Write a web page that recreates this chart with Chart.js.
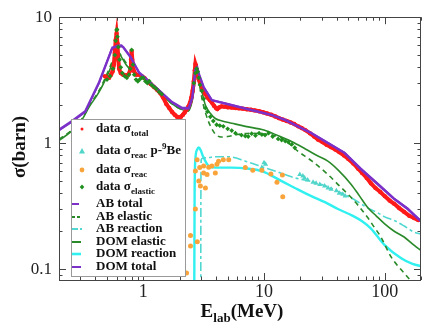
<!DOCTYPE html>
<html>
<head>
<meta charset="utf-8">
<script src="https://cdn.jsdelivr.net/npm/chart.js@4.4.1/dist/chart.umd.min.js"></script>
<style>
  body { margin: 0; background: #fff; }
  #wrap { position: relative; width: 425px; height: 324px; font-family: "Liberation Serif", "DejaVu Serif", serif; }
  canvas { position: absolute; left: 0; top: 0; }
  .title { position: absolute; font-weight: bold; font-size: 19px; color: #111; white-space: nowrap; }
  #ytitle { left: 19px; top: 147px; transform: translate(-50%, -50%) rotate(-90deg); }
  #xtitle { left: 242px; top: 300px; transform: translateX(-50%); }
  #xtitle sub { font-size: 13px; }
  #legend { position: absolute; left: 71px; top: 119px; width: 113px; height: 156px; border: 1px solid #9a9a9a; background: #fff; }
  .row { position: absolute; left: 0; width: 112px; height: 14px; line-height: 14px; font-size: 13px; font-weight: bold; color: #111; white-space: nowrap; }
  .row svg { position: absolute; left: 0; top: 0; }
  .row span { position: absolute; left: 24px; top: 0; }
  .row sub, .row sup { font-size: 9px; line-height: 0; }
</style>
</head>
<body>
<div id="wrap">
  <canvas id="chart" width="425" height="324"></canvas>
  <div class="title" id="ytitle">σ(barn)</div>
  <div class="title" id="xtitle">E<sub>lab</sub>(MeV)</div>
  <div id="legend">
    <div class="row" style="top:1px"><svg width="22" height="14"><circle cx="10" cy="8" r="1.5" fill="#ff1a1a"/></svg><span>data σ<sub>total</sub></span></div>
    <div class="row" style="top:23px"><svg width="22" height="14"><polygon points="10,5 13,10.5 7,10.5" fill="#4fd5c9"/></svg><span>data σ<sub>reac</sub> p-<sup>9</sup>Be</span></div>
    <div class="row" style="top:41.5px"><svg width="22" height="14"><circle cx="10" cy="8" r="2.4" fill="#f9a43a"/></svg><span>data σ<sub>reac</sub></span></div>
    <div class="row" style="top:59px"><svg width="22" height="14"><polygon points="10,5.5 12.3,8 10,10.5 7.7,8" fill="#1f8f1f"/></svg><span>data σ<sub>elastic</sub></span></div>
    <div class="row" style="top:76px"><svg width="22" height="14"><line x1="0" y1="8" x2="7" y2="8" stroke="#7b30c8" stroke-width="2"/></svg><span>AB total</span></div>
    <div class="row" style="top:88.7px"><svg width="22" height="14"><line x1="0" y1="8" x2="9" y2="8" stroke="#2a8a2a" stroke-width="2" stroke-dasharray="3,2"/></svg><span>AB elastic</span></div>
    <div class="row" style="top:101.3px"><svg width="22" height="14"><line x1="0" y1="8" x2="10" y2="8" stroke="#50d8d0" stroke-width="2" stroke-dasharray="6,2,2,2"/></svg><span>AB reaction</span></div>
    <div class="row" style="top:113.7px"><svg width="22" height="14"><line x1="0" y1="8" x2="9" y2="8" stroke="#2a8a2a" stroke-width="2"/></svg><span>DOM elastic</span></div>
    <div class="row" style="top:126.3px"><svg width="22" height="14"><line x1="0" y1="8" x2="9" y2="8" stroke="#30f0f0" stroke-width="2.6"/></svg><span>DOM reaction</span></div>
    <div class="row" style="top:139px"><svg width="22" height="14"><line x1="0" y1="8" x2="9" y2="8" stroke="#7b30c8" stroke-width="2"/></svg><span>DOM total</span></div>
  </div>
</div>
<script>
// tick labels
const xTickLabels = [1, 10, 100];
const yTickLabels = [0.1, 1, 10];

// data: total cross section (red)
const totE = [0.48, 0.5, 0.52, 0.54, 0.556, 0.57, 0.58, 0.59, 0.6, 0.61, 0.62, 0.63, 0.65, 0.68, 0.72, 0.75, 0.78, 0.79, 0.8, 0.81, 0.83, 0.87,
  0.92, 0.97, 1.02, 1.08, 1.15, 1.22, 1.3, 1.38, 1.46, 1.55, 1.64, 1.73, 1.82, 1.9, 1.97, 2.05, 2.13, 2.2, 2.28, 2.36, 2.44, 2.5, 2.56,
  2.62, 2.67, 2.7, 2.73, 2.77, 2.82, 2.88, 2.95, 3.05, 3.15, 3.27, 3.4, 3.55, 3.7, 3.85, 4.0, 4.1, 4.25, 4.45, 4.7, 5.0, 5.4, 5.8, 6.2,
  6.7, 7.2, 7.8, 8.4, 9.1, 9.8, 10.6, 11.5, 12.4, 13.3, 14.3, 15.4, 16.6, 17.8, 19.2, 20.5, 22, 24, 26, 28, 30.5, 33, 36, 39, 42, 46,
  50, 55, 60, 65, 71, 77, 84, 92, 100, 110, 120, 132, 145, 160, 175, 190];
const totS = [3.4, 3.3, 3.3, 3.5, 3.7, 4.2, 5.2, 6.6, 7.4, 6.2, 4.6, 3.9, 3.6, 3.5, 3.45, 3.5, 3.8, 4.6, 5.4, 4.6, 3.8, 3.5,
  3.5, 3.4, 3.3, 3.1, 2.95, 2.8, 2.65, 2.5, 2.3, 2.05, 1.9, 1.77, 1.68, 1.62, 1.6, 1.62, 1.68, 1.75, 1.85, 1.95, 2.1, 2.3, 2.6,
  3.1, 3.8, 4.25, 4.1, 3.8, 3.5, 3.2, 3.0, 2.8, 2.6, 2.45, 2.3, 2.2, 2.1, 1.98, 1.9, 1.87, 1.92, 1.96, 1.95, 1.93, 1.92, 1.9, 1.89,
  1.88, 1.86, 1.84, 1.82, 1.79, 1.76, 1.72, 1.68, 1.63, 1.58, 1.54, 1.5, 1.46, 1.42, 1.36, 1.32, 1.27, 1.2, 1.13, 1.07, 1.02, 0.97, 0.93, 0.89, 0.85, 0.8,
  0.75, 0.69, 0.63, 0.58, 0.53, 0.48, 0.44, 0.41, 0.38, 0.35, 0.33, 0.305, 0.285, 0.265, 0.255, 0.245];

// data: elastic (green)
const elE = [0.5, 0.53, 0.56, 0.58, 0.59, 0.6, 0.605, 0.61, 0.62, 0.635, 0.65, 0.67, 0.7, 0.73, 0.76, 0.78, 0.8, 0.82, 0.84, 0.87, 0.9, 0.93,
  0.97, 1.0, 1.04, 1.08, 1.12, 1.17, 1.22, 1.28, 1.35, 1.42,
  2.62, 2.7, 2.76, 2.82, 2.88, 2.95, 3.05, 3.16, 3.27, 3.4, 3.59, 3.8, 4.05, 4.3, 4.6, 5.0, 5.4, 5.8, 6.5, 7.0, 7.4, 7.9, 8.5, 9.1, 9.6,
  10.2, 10.9, 11.8, 13.1, 14, 15, 15.9, 17, 18];
const elS = [3.2, 3.4, 3.9, 5.0, 6.5, 7.9, 8.0, 7.0, 5.8, 4.6, 4.0, 3.6, 3.4, 3.3, 3.5, 3.9, 5.5, 4.2, 3.5, 3.2, 3.1, 3.2,
  3.3, 3.3, 3.1, 3.0, 3.1, 2.9, 2.8, 2.7, 2.55, 2.45,
  3.0, 3.6, 3.9, 3.7, 3.3, 2.9, 2.6, 2.25, 1.9, 1.78, 1.62, 1.5, 1.4, 1.38, 1.36, 1.3, 1.26, 1.2, 1.16, 1.14, 1.13, 1.19, 1.15, 1.2, 1.17,
  1.16, 1.2, 1.13, 1.08, 1.06, 1.04, 1.02, 0.98, 0.92];

// data: reaction (orange)
const reacE = [2.28, 2.46, 2.46, 2.7, 2.8, 2.7, 2.79, 2.93, 2.88, 2.97, 3.16, 3.16, 3.27, 3.37, 3.48, 3.7, 3.95, 4.07, 4.2, 4.6, 5.1,
  7.0, 8.07, 9.6, 11.4, 12.8, 14.2, 14.3];
const reacS = [0.093, 0.185, 0.153, 0.30, 0.165, 0.6, 0.74, 0.64, 0.5, 0.457, 0.66, 0.58, 0.44, 0.565, 0.645, 0.66, 0.58, 0.68, 0.72, 0.74, 0.74,
  0.64, 0.61, 0.61, 0.57, 0.49, 0.56, 0.375];

// data: reaction p-9Be (triangles)
const beE = [9.6, 10.0, 10.3, 19.8, 21, 21.7, 23, 25.5, 27, 29, 31.8, 34, 36, 39.8, 42, 45, 47];
const beS = [0.64, 0.7, 0.68, 0.565, 0.55, 0.53, 0.51, 0.49, 0.48, 0.47, 0.457, 0.44, 0.43, 0.42, 0.40, 0.394, 0.38];

// AB model
const abTotE = [0.2, 0.257, 0.33, 0.43, 0.555, 0.65, 0.68, 0.787, 0.92, 1.35, 1.73, 2.1, 2.38, 2.55, 2.7, 2.79, 2.9, 3.16, 3.7, 4.77,
  6.97, 11.6, 14.9, 24.7, 46.6, 63.6, 87.6, 120, 155, 200];
const abTotS = [1.28, 1.5, 1.79, 3.05, 5.73, 5.9, 5.8, 4.78, 3.65, 2.62, 2.12, 1.9, 1.9, 2.3, 3.87, 4.0, 3.5, 2.78, 2.19, 2.06,
  1.88, 1.67, 1.53, 1.2, 0.835, 0.62, 0.472, 0.36, 0.30, 0.239];
const abElE = [0.2, 0.25, 0.305, 0.357, 0.43, 0.52, 0.56, 0.59, 0.62, 0.66, 0.716, 0.81, 1.05, 1.5, 2.0, 2.35, 2.55, 2.7, 2.8, 2.9, 3.0,
  3.15, 3.3, 3.5, 3.7, 3.95, 4.4, 5.0, 6.0, 8.0, 10, 14, 19.2, 25, 33.8, 42, 52.8, 62, 72, 82, 93, 113, 145, 170];
const abElS = [1.07, 1.25, 1.53, 2.0, 2.62, 3.87, 4.6, 5.2, 5.3, 4.9, 4.37, 3.77, 3.23, 2.3, 1.88, 1.8, 2.3, 3.4, 3.5, 3.0, 2.5,
  2.0, 1.7, 1.45, 1.3, 1.18, 1.12, 1.13, 1.17, 1.2, 1.18, 1.1, 0.86, 0.72, 0.565, 0.46, 0.37, 0.31, 0.258, 0.215, 0.18, 0.125, 0.093, 0.078];
const abReE = [2.99, 3.0, 3.02, 3.1, 3.5, 4.0, 5.1, 7, 9.6, 13, 18, 24, 30, 38, 46.6, 55, 63.6, 75, 87.6, 100, 120, 145, 175, 200];
const abReS = [0.05, 0.5, 0.74, 0.76, 0.77, 0.78, 0.78, 0.72, 0.65, 0.59, 0.53, 0.5, 0.47, 0.43, 0.39, 0.36, 0.33, 0.3, 0.28, 0.26, 0.243, 0.22, 0.197, 0.19];

// DOM model
const domTotE = [0.2, 0.257, 0.33, 0.43, 0.545, 0.6, 0.66, 0.787, 0.92, 1.35, 1.73, 2.1, 2.38, 2.55, 2.7, 2.8, 2.9, 3.16, 3.7, 4.77,
  6.97, 11.6, 14.9, 24.7, 46.6, 63.6, 87.6, 120, 155, 200];
const domTotS = [1.26, 1.48, 1.76, 3.0, 5.6, 5.95, 6.0, 4.85, 3.6, 2.6, 2.1, 1.88, 1.88, 2.35, 3.8, 3.95, 3.5, 2.8, 2.2, 2.08,
  1.9, 1.68, 1.54, 1.21, 0.84, 0.63, 0.48, 0.365, 0.305, 0.242];
const domElE = [0.2, 0.25, 0.305, 0.357, 0.43, 0.52, 0.56, 0.6, 0.63, 0.67, 0.72, 0.81, 1.05, 1.5, 2.0, 2.35, 2.55, 2.7, 2.8, 2.9, 3.05,
  3.27, 3.6, 3.95, 4.5, 5.4, 7, 10, 13, 16.9, 22, 28, 33.8, 42, 52.8, 62, 72, 85, 100, 120, 145, 175, 207];
const domElS = [1.05, 1.23, 1.5, 1.95, 2.55, 3.7, 4.4, 5.0, 5.1, 4.7, 4.2, 3.7, 3.2, 2.3, 1.88, 1.8, 2.2, 3.2, 3.6, 3.2, 2.6,
  2.0, 1.72, 1.57, 1.5, 1.44, 1.36, 1.27, 1.15, 1.03, 0.9, 0.79, 0.72, 0.6, 0.47, 0.38, 0.31, 0.265, 0.229, 0.2, 0.18, 0.155, 0.137];
const domReE = [2.64, 2.66, 2.7, 2.79, 2.88, 3.0, 3.1, 3.48, 4.0, 5.4, 7.2, 9.6, 14, 19, 24.7, 32, 41, 54, 65, 77, 100, 137, 170, 207];
const domReS = [0.05, 0.4, 0.75, 0.89, 0.925, 0.87, 0.8, 0.66, 0.64, 0.64, 0.63, 0.6, 0.5, 0.43, 0.38, 0.34, 0.3, 0.266, 0.24, 0.21, 0.155, 0.122, 0.11, 0.105];

function pts(E, S) {
  return E.map((e, i) => ({ x: e, y: S[i] }));
}

function logTicks(min, max) {
  const out = [];
  for (let p = Math.floor(Math.log10(min)); p <= Math.ceil(Math.log10(max)); p++) {
    for (let m = 1; m <= 9; m++) {
      const v = m * Math.pow(10, p);
      if (v >= min * 0.999 && v <= max * 1.001) out.push({ v: v, major: m === 1 });
    }
  }
  return out;
}

// frame with inward ticks on all four sides
const frameTicks = {
  id: 'frameTicks',
  afterDatasetsDraw(chart) {
    const { ctx, chartArea: a, scales: { x, y } } = chart;
    ctx.save();
    ctx.strokeStyle = '#444';
    ctx.lineWidth = 1;
    ctx.beginPath();
    logTicks(x.min, x.max).forEach(t => {
      const px = Math.round(x.getPixelForValue(t.v)) + 0.5;
      const len = t.major ? 7 : 3.5;
      ctx.moveTo(px, a.bottom); ctx.lineTo(px, a.bottom - len);
      ctx.moveTo(px, a.top); ctx.lineTo(px, a.top + len);
    });
    logTicks(y.min, y.max).forEach(t => {
      const py = Math.round(y.getPixelForValue(t.v)) + 0.5;
      const len = t.major ? 7 : 3.5;
      ctx.moveTo(a.left, py); ctx.lineTo(a.left + len, py);
      ctx.moveTo(a.right, py); ctx.lineTo(a.right - len, py);
    });
    ctx.stroke();
    ctx.strokeRect(Math.round(a.left) + 0.5, Math.round(a.top) + 0.5,
      Math.round(a.right - a.left) - 1, Math.round(a.bottom - a.top));
    ctx.restore();
  }
};

const PURPLE = '#7b30c8', GREEN = '#2a8a2a';

new Chart(document.getElementById('chart'), {
  type: 'scatter',
  data: {
    datasets: [
      { label: 'data elastic', data: pts(elE, elS), order: 0, pointStyle: 'rectRot', pointRadius: 2.4,
        backgroundColor: '#1f8f1f', borderColor: '#1f8f1f', borderWidth: 0 },
      { label: 'data reac', data: pts(reacE, reacS), order: 1, pointRadius: 2.5,
        backgroundColor: '#f9a43a', borderColor: '#f9a43a', borderWidth: 0 },
      { label: 'data reac p-9Be', data: pts(beE, beS), order: 2, pointStyle: 'triangle', pointRadius: 3,
        backgroundColor: '#4fd5c9', borderColor: '#4fd5c9', borderWidth: 0 },
      { label: 'AB total', data: pts(abTotE, abTotS), order: 3, showLine: true, pointRadius: 0,
        borderColor: PURPLE, borderWidth: 2.4, tension: 0 },
      { label: 'DOM total', data: pts(domTotE, domTotS), order: 4, showLine: true, pointRadius: 0,
        borderColor: PURPLE, borderWidth: 1.6, tension: 0 },
      { label: 'data total', data: pts(totE, totS), order: 5, showLine: true, pointRadius: 2.2,
        backgroundColor: '#ff1a1a', borderColor: '#ff1a1a', borderWidth: 4, pointBorderWidth: 0, tension: 0 },
      { label: 'DOM elastic', data: pts(domElE, domElS), order: 6, showLine: true, pointRadius: 0,
        borderColor: GREEN, borderWidth: 1.6, cubicInterpolationMode: 'monotone' },
      { label: 'AB elastic', data: pts(abElE, abElS), order: 7, showLine: true, pointRadius: 0,
        borderColor: GREEN, borderWidth: 1.6, borderDash: [5, 4], cubicInterpolationMode: 'monotone' },
      { label: 'AB reaction', data: pts(abReE, abReS), order: 8, showLine: true, pointRadius: 0,
        borderColor: '#50d8d0', borderWidth: 1.6, borderDash: [9, 3, 3, 3], cubicInterpolationMode: 'monotone' },
      { label: 'DOM reaction', data: pts(domReE, domReS), order: 9, showLine: true, pointRadius: 0,
        borderColor: '#30f0f0', borderWidth: 2.4, cubicInterpolationMode: 'monotone' }
    ]
  },
  options: {
    responsive: false,
    animation: false,
    devicePixelRatio: 1,
    layout: { padding: { left: 0, right: 1, top: 14, bottom: 0 } },
    plugins: { legend: { display: false }, tooltip: { enabled: false } },
    scales: {
      x: {
        type: 'logarithmic', min: 0.2, max: 200,
        grid: { display: false, drawTicks: false },
        border: { display: false },
        afterBuildTicks: s => { s.ticks = xTickLabels.map(v => ({ value: v })); },
        afterFit: s => { s.height = 44; },
        ticks: { autoSkip: false, maxRotation: 0, padding: 1, color: '#222',
          font: { family: 'Liberation Serif', size: 18 }, callback: v => String(v) }
      },
      y: {
        type: 'logarithmic', min: 0.082, max: 10,
        grid: { display: false, drawTicks: false },
        border: { display: false },
        afterBuildTicks: s => { s.ticks = yTickLabels.map(v => ({ value: v })); },
        afterFit: s => { s.width = 59; },
        ticks: { autoSkip: false, padding: 7, color: '#222',
          font: { family: 'Liberation Serif', size: 17 }, callback: v => String(v) }
      }
    }
  },
  plugins: [frameTicks]
});
</script>
</body>
</html>
